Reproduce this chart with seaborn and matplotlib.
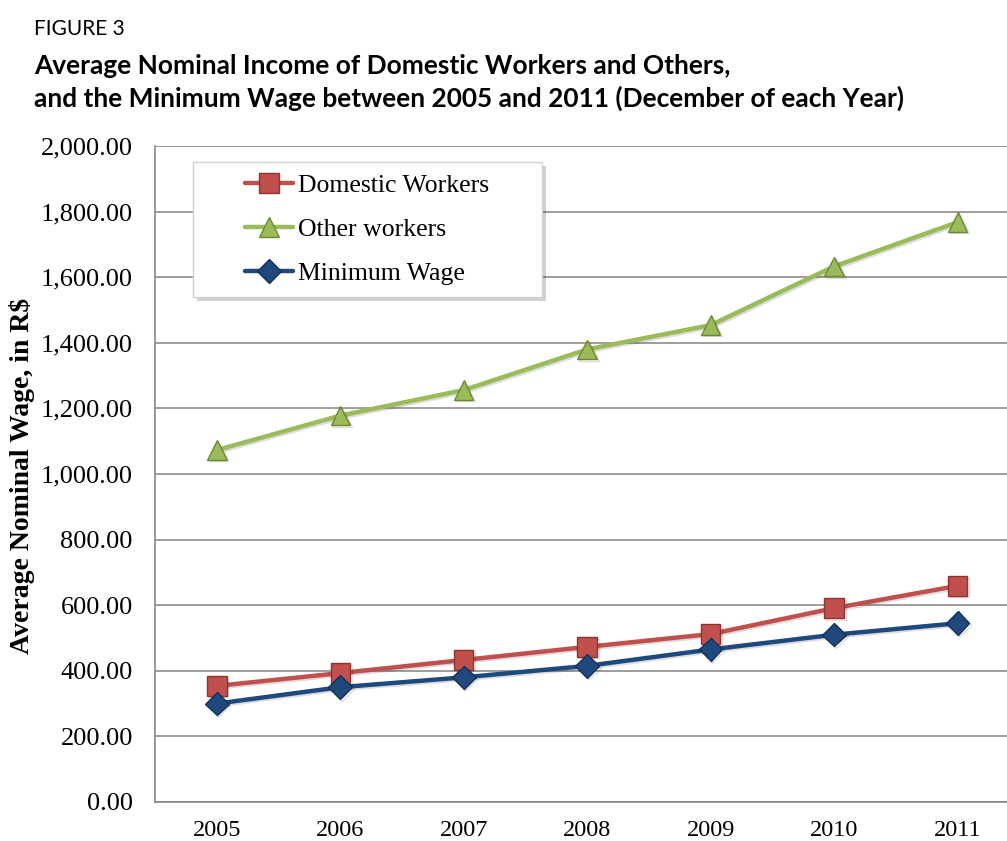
import matplotlib.pyplot as plt
import matplotlib.patheffects as pe
import pandas as pd
import seaborn as sns
from matplotlib.patches import Rectangle
from matplotlib.ticker import FuncFormatter, MultipleLocator

# --- data ---
years = [2005, 2006, 2007, 2008, 2009, 2010, 2011]
domestic = [354, 393, 433, 473, 512, 591, 659]
others = [1073, 1178, 1256, 1380, 1454, 1633, 1768]
min_wage = [300, 350, 380, 415, 465, 510, 545]

series = {
    "Domestic Workers": (domestic, "#C0504D", "#8E3330", "s"),
    "Other workers": (others, "#9BBB59", "#6B8A35", "^"),
    "Minimum Wage": (min_wage, "#1F497D", "#15325A", "D"),
}

sns.set_theme(style="white")
plt.rcParams["font.family"] = ["Liberation Serif", "DejaVu Serif"]
plt.rcParams["text.color"] = "black"

fig = plt.figure(figsize=(10.07, 8.41), dpi=100)
ax = fig.add_axes([0.154, 0.0464, 0.846, 0.78])

shadow = [pe.SimpleLineShadow(offset=(1.2, -1.2), alpha=0.15), pe.Normal()]
for name, (vals, col, edge, mk) in series.items():
    df = pd.DataFrame({"year": years, "value": vals})
    sns.lineplot(
        data=df, x="year", y="value", ax=ax, color=col, lw=3.2,
        marker=mk, markersize=14 if mk != "D" else 12,
        markeredgecolor=edge, markeredgewidth=1.0, label=name,
        path_effects=shadow, zorder=3,
    )

ax.set_xlim(2004.5, 2011.4)
ax.set_ylim(0, 2000)
ax.yaxis.set_major_locator(MultipleLocator(200))
ax.yaxis.set_major_formatter(FuncFormatter(lambda v, p: f"{v:,.2f}"))
ax.set_xticks(years)
ax.set_xticklabels([str(y) for y in years])
ax.set_xticks([y + 0.5 for y in years[:-1]] + [2004.5], minor=True)
ax.tick_params(axis="x", which="major", length=0, pad=13, labelsize=17.5, labelcolor="black")
ax.tick_params(axis="x", which="minor", length=6, width=1, color="#888888", direction="out")
ax.tick_params(axis="y", length=7, width=1, color="#888888", direction="out",
               labelsize=19, pad=9, labelcolor="black")
ax.grid(axis="y", color="#8C8C8C", lw=1.2)
ax.grid(axis="x", visible=False)
for s in ["top", "right"]:
    ax.spines[s].set_visible(False)
for s in ["left", "bottom"]:
    ax.spines[s].set_color("#888888")
    ax.spines[s].set_linewidth(1.2)

ax.set_xlabel("")
ax.set_ylabel("Average Nominal Wage, in R$", fontsize=20, fontweight="bold", color="black")
ax.yaxis.set_label_coords(-0.141, 0.497)

# legend box drawn separately so the padding can be wider than tall
box = dict(x=0.0446, y=0.770, w=0.4096, h=0.2058)
ax.add_patch(Rectangle((box["x"] + 0.005, box["y"] - 0.006), box["w"], box["h"],
                       transform=ax.transAxes, facecolor="#000000", alpha=0.18,
                       edgecolor="none", zorder=4, clip_on=False))
ax.add_patch(Rectangle((box["x"], box["y"]), box["w"], box["h"],
                       transform=ax.transAxes, facecolor="white",
                       edgecolor="#D0D0D0", lw=1, zorder=4, clip_on=False))

leg = ax.legend(
    loc="upper left", bbox_to_anchor=(0.1056, 0.957), fontsize=18.5,
    frameon=False, borderpad=0, labelspacing=0.82, handlelength=1.85,
    handletextpad=0.2, borderaxespad=0,
)
leg.set_zorder(5)
for h in leg.get_lines():
    h.set_path_effects([])
for t in leg.get_texts():
    t.set_color("black")

fig.text(0.0338, 0.9584, "FIGURE 3", fontsize=15, family="Lato",
         va="baseline", ha="left", color="black")
fig.text(0.0338, 0.912, "Average Nominal Income of Domestic Workers and Others,",
         fontsize=18.9, fontweight="bold", family="Lato",
         va="baseline", ha="left", color="black")
fig.text(0.0338, 0.8728, "and the Minimum Wage between 2005 and 2011 (December of each Year)",
         fontsize=18.9, fontweight="bold", family="Lato",
         va="baseline", ha="left", color="black")

fig.savefig("out.png", dpi=100)
